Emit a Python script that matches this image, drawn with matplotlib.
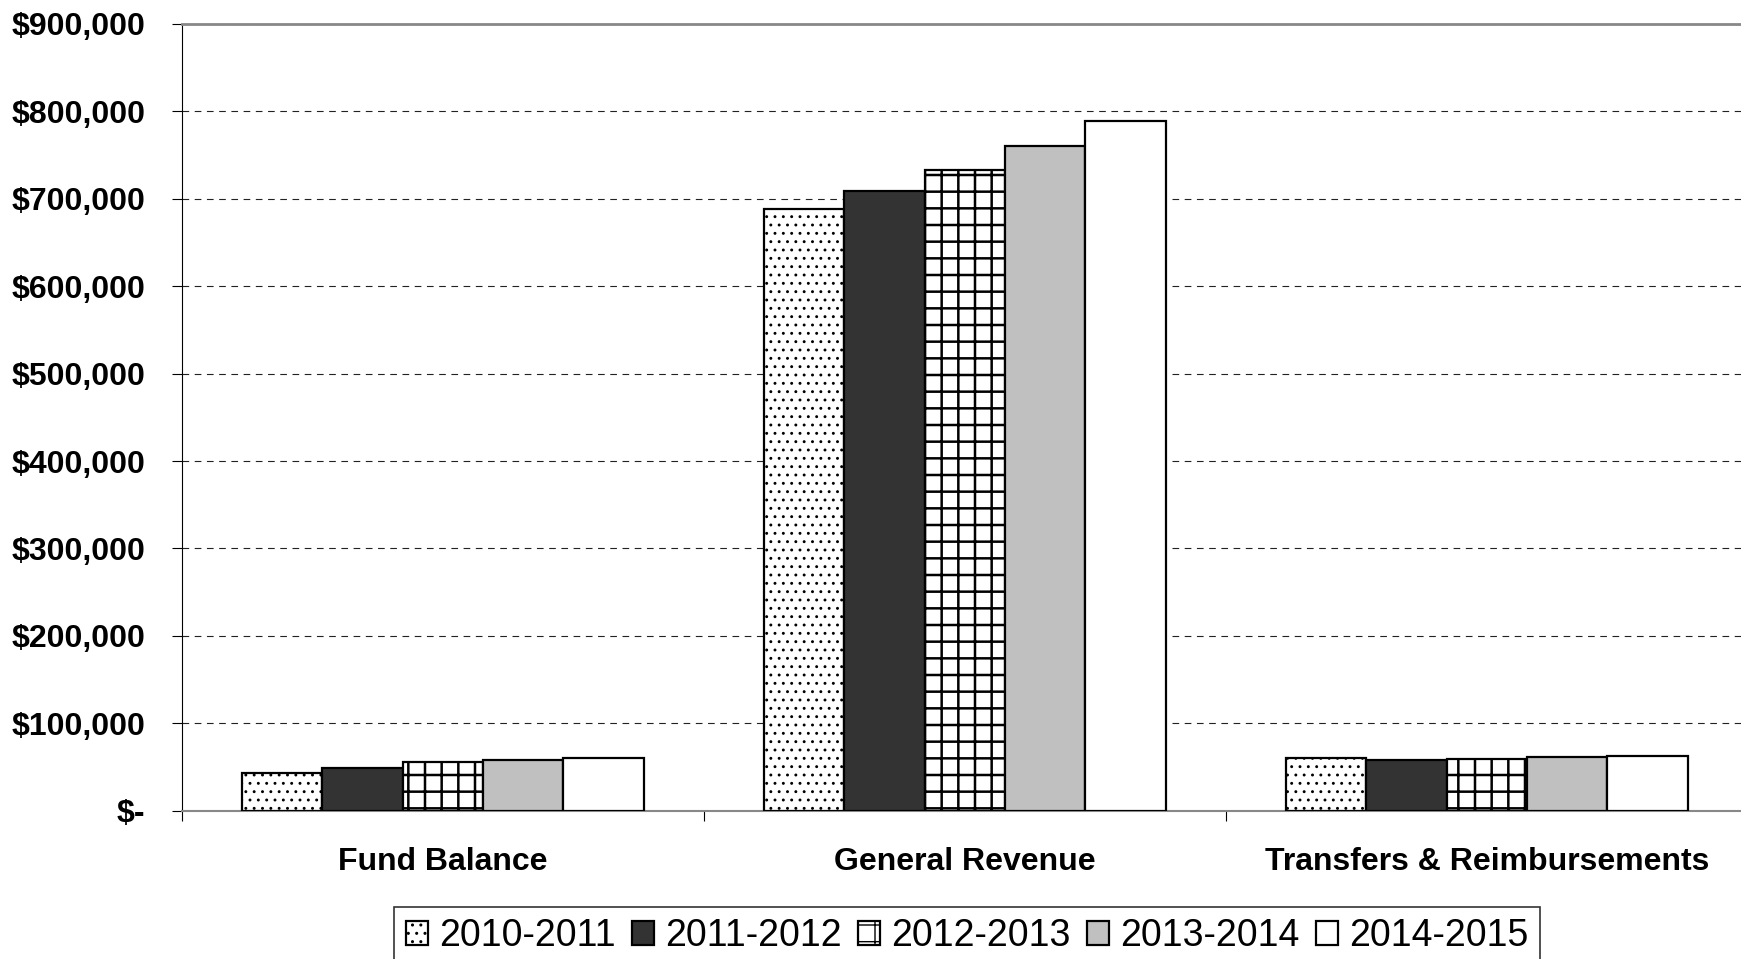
import numpy as np
import matplotlib
matplotlib.use("Agg")
import matplotlib.pyplot as plt
from matplotlib.ticker import FuncFormatter

plt.rcParams["font.family"] = ["Liberation Sans", "DejaVu Sans"]

categories = ["Fund Balance", "General Revenue", "Transfers & Reimbursements"]
years = ["2010-2011", "2011-2012", "2012-2013", "2013-2014", "2014-2015"]
fund_balance = [42800, 49200, 55700, 58000, 60600]
general_revenue = [688000, 708500, 732500, 760000, 788500]
transfers = [60000, 58000, 59000, 61000, 63000]

series = np.array([fund_balance, general_revenue, transfers]).T  # one row per year

fills = ["white", "#333333", "white", "#c0c0c0", "white"]
hatches = ["..", None, "+", None, None]
hatch_lw = [0.9, 1.0, 1.8, 1.0, 1.0]

fig = plt.figure(figsize=(17.41, 9.59), dpi=100)
ax = fig.add_axes([0.1045, 0.1546, 0.8995, 0.8204])

x = np.arange(len(categories))
group = 1 / 1.3
w = group / len(years)
for i, yr in enumerate(years):
    with plt.rc_context({"hatch.linewidth": hatch_lw[i]}):
        ax.bar(x - group / 2 + w * (i + 0.5), series[i], width=w,
               color=fills[i], edgecolor="black", linewidth=1.6,
               hatch=hatches[i], label=yr, zorder=3)

ax.set_xlim(-0.5, 2.5)
ax.set_ylim(0, 900000)
ax.set_yticks(np.arange(0, 900001, 100000))
ax.yaxis.set_major_formatter(FuncFormatter(lambda v, p: "$-" if v == 0 else f"${v:,.0f}"))
ax.grid(axis="y", color="#222222", linestyle=(0, (6, 5)), linewidth=0.8, zorder=0)

# category boundaries as ticks, names as minor ticks
ax.set_xticks([-0.5, 0.5, 1.5, 2.5])
ax.set_xticklabels([])
ax.set_xticks(x, minor=True)
ax.set_xticklabels(categories, minor=True, fontsize=23, fontweight="bold")
ax.tick_params(axis="x", which="major", direction="out", length=7.5, width=0.8, color="black")
ax.tick_params(axis="x", which="minor", length=0, pad=26)
ax.tick_params(axis="y", direction="out", length=7.5, width=0.8, pad=19, labelsize=23)
for lbl in ax.get_yticklabels():
    lbl.set_fontweight("bold")

ax.spines["right"].set_visible(False)
ax.spines["top"].set_color("#888888")
ax.spines["top"].set_linewidth(2)
ax.spines["bottom"].set_color("#888888")
ax.spines["bottom"].set_linewidth(1.5)
ax.spines["left"].set_color("black")
ax.spines["left"].set_linewidth(0.8)

leg = fig.legend(loc="center", bbox_to_anchor=(0.5555, 0.024), ncol=5, fontsize=27,
                 frameon=True, fancybox=False, edgecolor="black",
                 handlelength=0.6, handleheight=0.6, handletextpad=0.3,
                 columnspacing=0.42, borderpad=0.3)
leg.get_frame().set_linewidth(1.2)

fig.savefig("out.png", dpi=100)
